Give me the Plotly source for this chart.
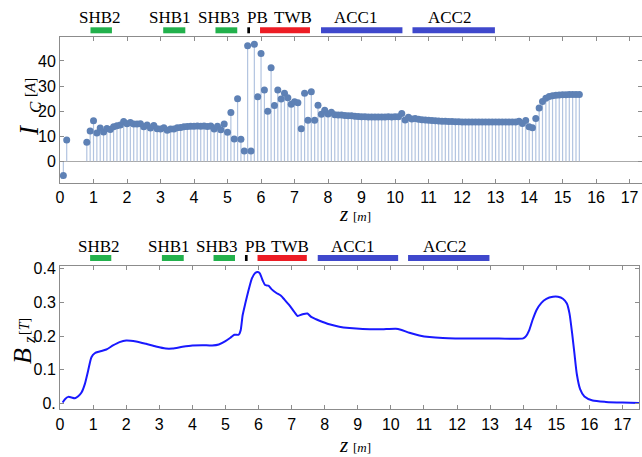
import plotly.graph_objects as go

# ---------------- data: critical currents I_C [A] at positions z [m] ----------------
z_ic = [0.1, 0.2,
        0.8, 0.9,
        1.0, 1.1, 1.2, 1.3, 1.4, 1.5, 1.6, 1.7, 1.8, 1.9,
        2.0, 2.1, 2.2, 2.3, 2.4, 2.5, 2.6, 2.7, 2.8, 2.9,
        3.0, 3.1, 3.2, 3.3, 3.4, 3.5, 3.6, 3.7, 3.8, 3.9,
        4.0, 4.1, 4.2, 4.3, 4.4, 4.5, 4.6, 4.7, 4.8, 4.9,
        5.0, 5.1, 5.2, 5.3, 5.4, 5.5, 5.6, 5.7, 5.8, 5.9,
        6.0, 6.1, 6.2, 6.3, 6.4, 6.5, 6.6, 6.7, 6.8, 6.9,
        7.0, 7.1, 7.2, 7.3, 7.4, 7.5, 7.6, 7.7, 7.8, 7.9,
        8.0, 8.1, 8.2, 8.3, 8.4, 8.5, 8.6, 8.7, 8.8, 8.9,
        9.0, 9.1, 9.2, 9.3, 9.4, 9.5, 9.6, 9.7, 9.8, 9.9,
        10.0, 10.1, 10.2, 10.3, 10.4, 10.5, 10.6, 10.7, 10.8, 10.9,
        11.0, 11.1, 11.2, 11.3, 11.4, 11.5, 11.6, 11.7, 11.8, 11.9,
        12.0, 12.1, 12.2, 12.3, 12.4, 12.5, 12.6, 12.7, 12.8, 12.9,
        13.0, 13.1, 13.2, 13.3, 13.4, 13.5, 13.6, 13.7, 13.8, 13.9,
        14.0, 14.1, 14.2, 14.3, 14.4, 14.5, 14.6, 14.7, 14.8, 14.9,
        15.0, 15.1, 15.2, 15.3, 15.4, 15.5]

ic = [-5.7, 8.5,
      7.6, 12.1,
      16.2, 11.3, 13.3, 11.7, 13.1, 12.7, 13.8, 14.2, 14.5, 15.9,
      15.0, 15.5, 14.9, 14.9, 15.0, 13.8, 14.5, 13.3, 14.3, 13.0,
      12.9, 13.4, 12.4, 12.9, 12.9, 13.4, 13.5, 13.8, 13.9, 14.0,
      14.0, 14.1, 14.0, 14.1, 13.9, 14.1, 12.9, 14.0, 12.6, 14.9,
      11.6, 19.5, 8.9, 24.9, 8.8, 4.1, 46.1, 4.1, 46.7, 25.7,
      43.0, 28.4, 20.0, 37.3, 22.2, 28.4, 24.8, 27.1, 25.3, 22.7,
      23.7, 23.3, 13.0, 27.1, 16.4, 27.7, 16.4, 22.3, 18.8, 20.4,
      18.9, 19.6, 18.6, 18.5, 18.5, 18.3, 18.2, 18.2, 18.0, 17.9,
      17.8, 17.8, 17.7, 17.7, 17.7, 17.7, 17.7, 17.7, 17.8, 17.7,
      17.8, 17.8, 19.1, 16.5, 17.6, 16.9, 17.1, 16.8, 16.6, 16.5,
      16.4, 16.3, 16.2, 16.1, 16.0, 16.0, 15.9, 15.9, 15.8, 15.8,
      15.7, 15.7, 15.7, 15.7, 15.7, 15.7, 15.7, 15.7, 15.7, 15.7,
      15.7, 15.7, 15.7, 15.7, 15.7, 15.7, 15.7, 16.0, 15.1, 16.3,
      13.8, 13.4, 17.1, 21.3, 23.8, 25.1, 25.8, 26.1, 26.3, 26.4,
      26.5, 26.5, 26.6, 26.6, 26.6, 26.6]

assert len(z_ic) == len(ic), (len(z_ic), len(ic))

# ---------------- data: longitudinal field B_z [T] ----------------
z_b = [0.08, 0.15, 0.25, 0.35, 0.45, 0.55, 0.65, 0.75, 0.85, 0.95,
       1.05, 1.2, 1.4, 1.6, 1.8, 2.0, 2.3, 2.6, 2.9, 3.2,
       3.4, 3.7, 4.0, 4.3, 4.6, 4.8, 5.0, 5.15, 5.27, 5.4,
       5.46, 5.52, 5.6, 5.7, 5.8, 5.9, 5.98, 6.04, 6.12, 6.2,
       6.3, 6.4, 6.53, 6.68, 6.78, 6.93, 7.08, 7.18, 7.33, 7.48,
       7.59, 7.74, 7.94, 8.14, 8.44, 8.75, 9.15, 9.66, 10.15, 10.3,
       10.56, 10.86, 11.17, 11.57, 11.95, 13.0, 14.0, 14.08, 14.18, 14.28,
       14.4, 14.55, 14.7, 14.9, 15.05, 15.2, 15.32, 15.4, 15.48, 15.55,
       15.62, 15.72, 15.85, 16.1, 16.5, 17.0, 17.5]
bz = [0.002, 0.012, 0.019, 0.017, 0.015, 0.021, 0.032, 0.057, 0.097, 0.137,
      0.149, 0.154, 0.160, 0.172, 0.182, 0.187, 0.184, 0.177, 0.169, 0.163,
      0.163, 0.168, 0.172, 0.173, 0.172, 0.175, 0.185, 0.195, 0.204, 0.204,
      0.217, 0.262, 0.297, 0.337, 0.372, 0.388, 0.391, 0.387, 0.367, 0.352,
      0.350, 0.339, 0.329, 0.320, 0.309, 0.292, 0.272, 0.260, 0.265, 0.267,
      0.257, 0.250, 0.242, 0.235, 0.228, 0.224, 0.221, 0.220, 0.222, 0.219,
      0.210, 0.202, 0.197, 0.194, 0.193, 0.193, 0.193, 0.199, 0.217, 0.247,
      0.277, 0.299, 0.311, 0.317, 0.317, 0.311, 0.297, 0.267, 0.207, 0.147,
      0.087, 0.042, 0.020, 0.008, 0.004, 0.002, 0.001]
assert len(z_b) == len(bz)

# ---------------- beamline sections ----------------
sec_names = ["SHB2", "SHB1", "SHB3", "PB", "TWB", "ACC1", "ACC2"]
sec_start = [0.91, 3.08, 4.64, 5.59, 5.97, 7.79, 10.52]
sec_end = [1.55, 3.74, 5.29, 5.67, 7.46, 10.22, 12.98]
sec_label_z = [1.19, 3.28, 4.75, 5.90, 6.94, 8.83, 11.63]
sec_colors = ["rgb(34,177,76)", "rgb(34,177,76)", "rgb(34,177,76)", "black",
              "rgb(237,28,36)", "rgb(63,72,204)", "rgb(63,72,204)"]

x_ticks = list(range(0, 18))
ic_ticks = [0, 10, 20, 30, 40]
b_ticks = [0.0, 0.1, 0.2, 0.3, 0.4]
b_ticktext = ["0.", "0.1", "0.2", "0.3", "0.4"]

W, H = 642, 457
def px(x):
    return x / W
def py(y):
    return 1 - y / H

fig = go.Figure()

# stems
sx, sy = [], []
for z, v in zip(z_ic, ic):
    sx += [z, z, None]
    sy += [0, v, None]
fig.add_trace(go.Scatter(x=sx, y=sy, mode="lines",
                         line=dict(color="rgb(178,196,224)", width=1.2),
                         hoverinfo="skip", showlegend=False, xaxis="x", yaxis="y"))
fig.add_trace(go.Scatter(x=z_ic, y=ic, mode="markers",
                         marker=dict(color="rgb(94,129,181)", size=7),
                         showlegend=False, xaxis="x", yaxis="y"))

fig.add_trace(go.Scatter(x=z_b, y=bz, mode="lines",
                         line=dict(color="rgb(25,25,255)", width=2, shape="spline", smoothing=0.6),
                         showlegend=False, xaxis="x2", yaxis="y2"))

frame = "rgb(140,140,140)"
tickfont = dict(family="Liberation Sans, Arial, sans-serif", size=16, color="black")
common = dict(showgrid=False, showline=True, linecolor=frame, linewidth=1,
              mirror="ticks", ticks="inside", ticklen=4, tickcolor=frame,
              tickfont=tickfont, automargin=False)

fig.update_layout(
    width=W, height=H,
    margin=dict(l=0, r=0, t=0, b=0, autoexpand=False),
    paper_bgcolor="white", plot_bgcolor="white",
    xaxis=dict(domain=[px(60), 1.0], range=[0, 17.37], anchor="y",
               tickvals=x_ticks, zeroline=False, **common),
    yaxis=dict(domain=[py(183), py(36.7)], range=[-8.65, 49.68], anchor="x",
               tickvals=ic_ticks, zeroline=True, zerolinecolor="rgb(170,170,170)",
               zerolinewidth=1, **common),
    xaxis2=dict(domain=[px(60), px(639)], range=[0, 17.5], anchor="y2",
                tickvals=x_ticks, zeroline=False, **common),
    yaxis2=dict(domain=[py(409.3), py(265.7)], range=[-0.018, 0.4095], anchor="x2",
                tickvals=b_ticks, ticktext=b_ticktext, zeroline=False, **common),
)

serif = "Liberation Serif, Times New Roman, serif"
shapes = []
annotations = []
for xr, bar_y, lab_y in [("x", (27.3, 33.3), 17.5), ("x2", (255.0, 261.0), 246.0)]:
    for n, s, e, lz, c in zip(sec_names, sec_start, sec_end, sec_label_z, sec_colors):
        shapes.append(dict(type="rect", xref=xr, yref="paper", x0=s, x1=e,
                           y0=py(bar_y[1]), y1=py(bar_y[0]),
                           fillcolor=c, line=dict(width=0), layer="above"))
        annotations.append(dict(xref=xr, yref="paper", x=lz, y=py(lab_y), text=n,
                                showarrow=False, xanchor="center", yanchor="middle",
                                font=dict(family=serif, size=17, color="black")))


def label(text, x, y, size, angle=0):
    return dict(xref="paper", yref="paper", x=px(x), y=py(y), text=text,
                textangle=angle, showarrow=False, xanchor="center", yanchor="middle",
                font=dict(family=serif, size=size, color="black"))

# axis titles (pieces placed individually)
annotations += [
    label("<i>z</i>", 344, 214, 21), label("[<i>m</i>]", 362, 216, 13),
    label("<i>z</i>", 344, 445, 21), label("[<i>m</i>]", 362, 447, 13),
    label("<i>I</i>", 29, 130, 27, -90), label("<i>C</i>", 35, 107, 17, -90),
    label("[<i>A</i>]", 30, 88, 15, -90),
    label("<i>B</i>", 22, 356, 26, -90), label("<i>z</i>", 29, 340, 17, -90),
    label("[<i>T</i>]", 24, 326, 14, -90),
]

fig.update_layout(shapes=shapes, annotations=annotations)
fig.write_html("out.html", config={"displayModeBar": False},
               post_script="document.body.style.margin='0';document.body.style.overflow='hidden';")
